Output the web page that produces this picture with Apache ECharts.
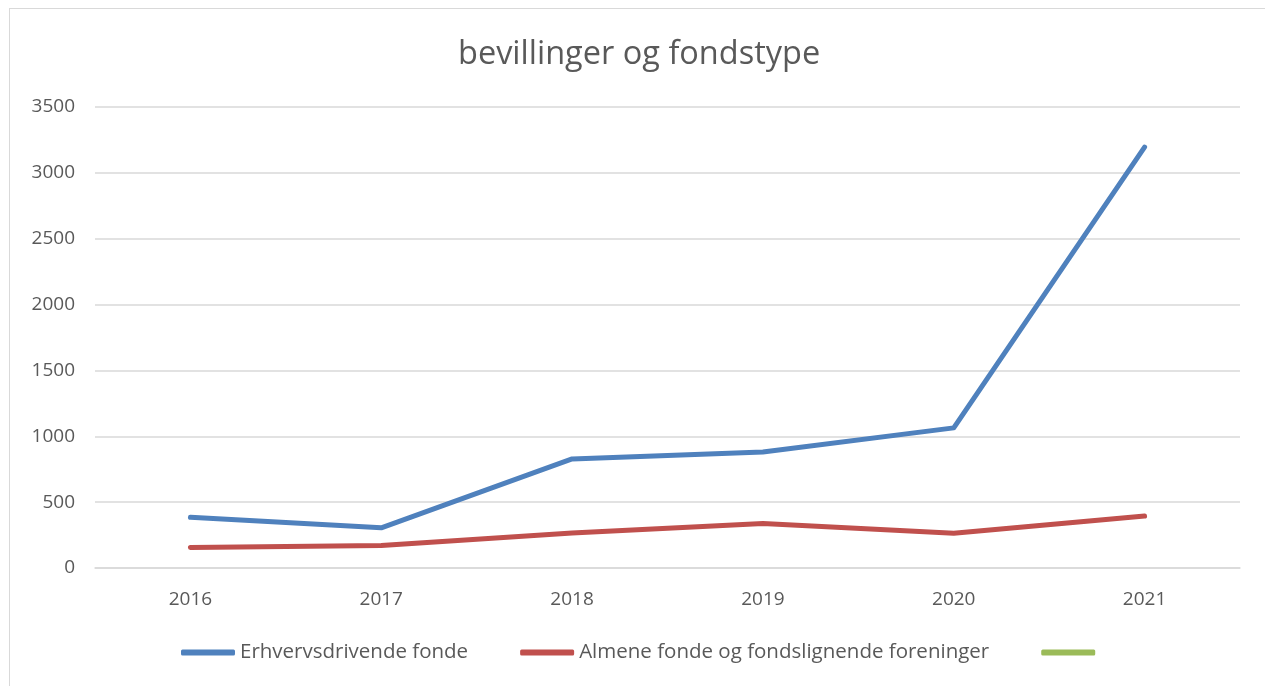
<!DOCTYPE html>
<html>
<head>
<meta charset="utf-8">
<script src="https://cdn.jsdelivr.net/npm/echarts@6/dist/echarts.min.js"></script>
<style>
  html, body { margin: 0; padding: 0; background: #fff; }
  .frame { position: absolute; left: 9px; top: 8px; width: 1300px; height: 720px; border: 1px solid #d9d9d9; }
  #chart { position: absolute; left: 0; top: 0; width: 1265px; height: 686px; }
</style>
</head>
<body>
<div class="frame"></div>
<div id="chart"></div>
<script>
  // data
  const years = ['2016', '2017', '2018', '2019', '2020', '2021'];
  const erhvervsdrivende = [385, 305, 828, 880, 1064, 3195];
  const almene = [156, 171, 266, 338, 263, 394];
  const tom = [null, null, null, null, null, null];
  const yTicks = { min: 0, max: 3500, interval: 500 };

  const textFont = '"Open Sans", "Noto Sans", sans-serif';
  const textColor = '#595959';

  const chart = echarts.init(document.getElementById('chart'));
  const lineSeries = (name, data, color) => ({
    name: name,
    type: 'line',
    data: data,
    showSymbol: false,
    symbol: 'none',
    lineStyle: { width: 5, color: color, cap: 'round', join: 'round' },
    itemStyle: { color: color },
    animation: false
  });

  chart.setOption({
    backgroundColor: 'transparent',
    title: {
      text: 'bevillinger og fondstype',
      left: 453,
      top: 33,
      textStyle: { fontFamily: textFont, fontSize: 32.5, fontWeight: 'normal', color: textColor }
    },
    grid: { left: 95, right: 25, top: 107, bottom: 118 },
    xAxis: {
      type: 'category',
      data: years,
      boundaryGap: true,
      axisLine: { show: true, lineStyle: { color: '#d9d9d9', width: 1.5 } },
      axisTick: { show: false },
      axisLabel: { fontFamily: textFont, fontSize: 19, color: textColor, margin: 22 }
    },
    yAxis: {
      type: 'value',
      min: yTicks.min,
      max: yTicks.max,
      interval: yTicks.interval,
      axisLine: { show: false },
      axisTick: { show: false },
      splitLine: { lineStyle: { color: '#d9d9d9', width: 1.5 } },
      axisLabel: { fontFamily: textFont, fontSize: 19, color: textColor, margin: 20, formatter: v => String(v) }
    },
    legend: {
      bottom: 18,
      left: 176,
      icon: 'roundRect',
      itemWidth: 54,
      itemHeight: 6,
      itemGap: 52,
      textStyle: { fontFamily: textFont, fontSize: 20.5, color: textColor },
      data: ['Erhvervsdrivende fonde', 'Almene fonde og fondslignende foreninger', ' ']
    },
    series: [
      lineSeries('Erhvervsdrivende fonde', erhvervsdrivende, '#4f81bd'),
      lineSeries('Almene fonde og fondslignende foreninger', almene, '#c0504d'),
      lineSeries(' ', tom, '#9bbb59')
    ]
  });
</script>
</body>
</html>
